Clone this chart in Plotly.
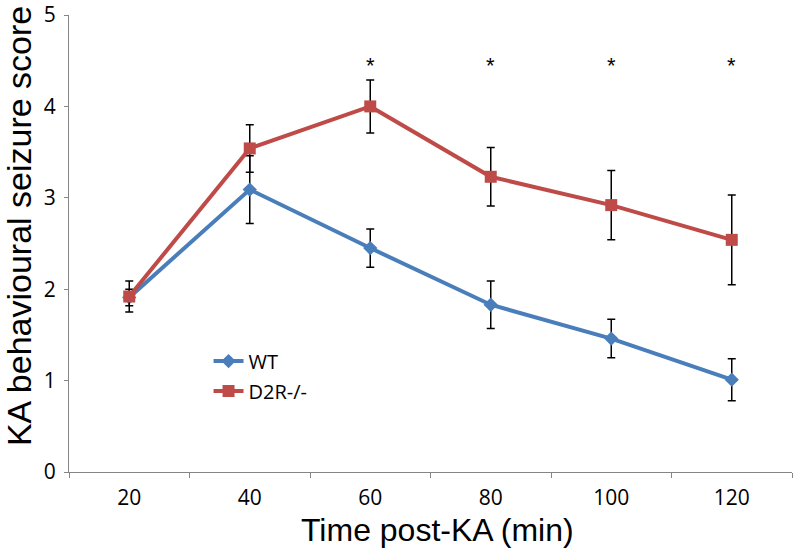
import plotly.graph_objects as go

# ---- data ----
time_labels = ["20", "40", "60", "80", "100", "120"]
wt_mean = [1.91, 3.09, 2.45, 1.83, 1.46, 1.01]
wt_err = [0.09, 0.37, 0.21, 0.26, 0.21, 0.23]
d2r_mean = [1.92, 3.54, 4.00, 3.23, 2.92, 2.54]
d2r_err = [0.17, 0.26, 0.29, 0.32, 0.38, 0.49]
significance = ["", "", "*", "*", "*", "*"]
x_title = "Time post-KA (min)"
y_title = "KA behavioural seizure score"

BLUE = "#4A7EBB"
RED = "#BE4B48"
AXIS = "#868686"
TICKFONT = dict(family="Open Sans", size=21, color="#000000")

fig = go.Figure()
fig.add_trace(go.Scatter(
    x=time_labels, y=wt_mean, name="WT", mode="lines+markers",
    line=dict(color=BLUE, width=4),
    marker=dict(symbol="diamond", size=11, color=BLUE),
    error_y=dict(type="data", array=wt_err, color="#000000", thickness=1.5, width=4),
    legendgroup="a",
))
fig.add_trace(go.Scatter(
    x=time_labels, y=d2r_mean, name="D2R-/-", mode="lines+markers",
    line=dict(color=RED, width=4),
    marker=dict(symbol="square", size=12, color=RED),
    error_y=dict(type="data", array=d2r_err, color="#000000", thickness=1.5, width=4),
    legendgroup="b",
))

star_y = 4.45
for i, s in enumerate(significance):
    if s:
        fig.add_annotation(x=i, y=star_y, xref="x", yref="y", text=s, showarrow=False,
                           font=dict(family="Liberation Sans", size=22, color="#000000"),
                           xanchor="center", yanchor="middle")

# axis titles as annotations for precise placement
fig.add_annotation(text=x_title, xref="paper", yref="paper", x=0.509, y=-0.1269,
                   xanchor="center", yanchor="middle", showarrow=False,
                   font=dict(family="Liberation Sans", size=32, color="#000000"))
fig.add_annotation(text=y_title, xref="paper", yref="paper", x=-0.069, y=0.5383,
                   xanchor="center", yanchor="middle", showarrow=False, textangle=-90,
                   font=dict(family="Liberation Sans", size=34, color="#000000"))

fig.update_layout(
    width=793, height=548,
    margin=dict(l=69, r=1, t=15, b=76, autoexpand=False),
    paper_bgcolor="white", plot_bgcolor="white",
    showlegend=True,
    legend=dict(x=0.193, y=0.2853, xanchor="left", yanchor="top",
                font=dict(family="Open Sans", size=20, color="#000000"),
                bgcolor="rgba(0,0,0,0)", tracegroupgap=1, itemwidth=30),
    xaxis=dict(
        type="category", range=[-0.5, 5.5], automargin=False,
        showline=True, linecolor=AXIS, linewidth=1,
        ticks="outside", tickson="boundaries", ticklen=5, tickcolor=AXIS,
        ticklabelstandoff=7,
        tickfont=TICKFONT, showgrid=False, zeroline=False,
    ),
    yaxis=dict(
        range=[0, 5], dtick=1, automargin=False,
        showline=True, linecolor=AXIS, linewidth=1,
        ticks="outside", ticklen=4, tickcolor=AXIS,
        ticklabelstandoff=4, ticklabeloverflow="allow",
        tickfont=TICKFONT, showgrid=False, zeroline=False,
    ),
)

fig.write_html("out.html", config={"displayModeBar": False},
               post_script="document.body.style.margin='0';")
